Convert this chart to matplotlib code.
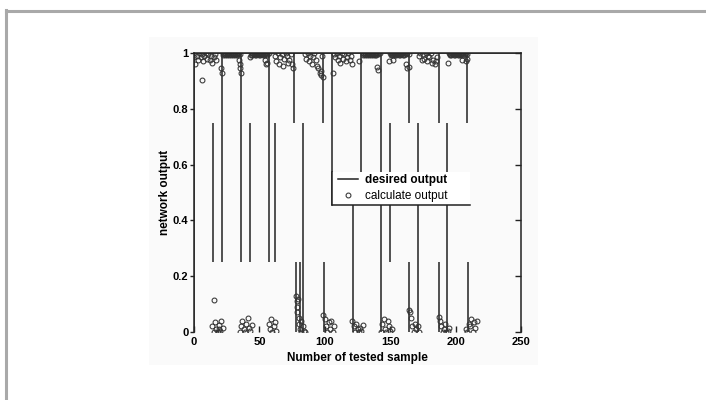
import matplotlib
matplotlib.use("Agg")
import matplotlib.pyplot as plt
import matplotlib.lines as mlines
from matplotlib.patches import Rectangle

plt.rcParams['font.family'] = ['Liberation Sans', 'DejaVu Sans']

# ---------------- data ----------------
# desired output: flat line at 1 plus the vertical transition strokes
desired_x = [0, 250]
desired_y = [1, 1]
seg_x      = [0, 14.2, 21.5, 36, 43, 57.5, 62.3, 76.8, 77.7, 80.8, 83.5, 98.7, 99.1,
              105.8, 121.4, 128, 142.8, 149.8, 164.4, 164.6, 171, 187, 187.5, 193.5,
              208.8, 209.8]
seg_top    = [1, 0.75, 1, 1, 0.75, 1, 0.75, 1, 0.25, 0.25, 0.75, 1, 0.25,
              1, 0.5, 1, 1, 0.75, 1, 0.25, 0.75, 1, 0.25, 0.75,
              1, 0.25]
seg_bottom = [0, 0.25, 0.25, 0.25, 0.25, 0.25, 0.25, 0.75, 0, 0, 0, 0.75, 0,
              0.455, 0, 0.5, 0, 0.25, 0.75, 0, 0, 0.75, 0, 0,
              0.75, 0]

# calculated output (network), near 1
top_x = [0, 1, 2, 3, 4, 5, 6, 7, 8, 9, 10, 11, 12, 13, 14, 15, 16, 17, 6,
         22, 23, 24, 25, 26, 27, 28, 29, 30, 31, 32, 33, 34, 35, 21, 21.5, 34.5, 35.5, 35, 36,
         43, 44, 45, 46, 47, 48, 49, 50, 51, 52, 53, 54, 55, 56, 57, 54, 56, 55,
         62, 63, 64, 65, 66, 67, 68, 69, 70, 71, 72, 73, 74, 75, 76,
         85, 86, 87, 88, 89, 90, 91, 92, 93, 94, 95, 96, 97, 98, 97, 98.5,
         107, 108, 109, 110, 111, 112, 113, 114, 115, 116, 117, 118, 119, 120, 121, 106,
         129, 130, 131, 132, 133, 134, 135, 136, 137, 138, 139, 140, 141, 142, 126, 140, 141,
         150, 151, 152, 153, 154, 155, 156, 157, 158, 159, 160, 161, 162, 163, 164, 149, 152, 162, 164, 163,
         172, 173, 174, 175, 176, 177, 178, 179, 180, 181, 182, 183, 184, 185, 186,
         195, 196, 197, 198, 199, 200, 201, 202, 203, 204, 205, 206, 207, 208, 209, 194, 205, 208, 209]
top_y = [0.985, 0.96, 0.99, 0.975, 1.0, 0.985, 0.995, 0.97, 0.99, 1.0, 0.98, 0.995, 0.975, 0.99, 0.965, 0.985, 0.995, 0.975, 0.905,
         1.0, 0.998, 1.0, 0.997, 1.0, 0.999, 1.0, 0.998, 1.0, 1.0, 0.997, 1.0, 0.999, 0.996, 0.945, 0.93, 0.975, 0.96, 0.945, 0.93,
         0.985, 1.0, 0.998, 1.0, 0.999, 1.0, 0.997, 1.0, 1.0, 0.998, 1.0, 0.999, 1.0, 0.997, 1.0, 0.975, 0.965, 0.96,
         0.99, 0.97, 1.0, 0.96, 0.985, 0.995, 0.955, 0.98, 1.0, 0.99, 0.965, 0.975, 0.995, 0.96, 0.945,
         0.995, 0.98, 1.0, 0.97, 0.99, 0.96, 0.985, 1.0, 0.975, 0.955, 0.945, 0.93, 0.92, 0.99, 0.935, 0.915,
         0.995, 0.985, 1.0, 0.975, 0.99, 0.965, 1.0, 0.98, 0.995, 0.97, 0.985, 1.0, 0.975, 0.99, 0.96, 0.93,
         1.0, 0.998, 1.0, 0.999, 1.0, 0.997, 1.0, 1.0, 0.998, 1.0, 0.999, 1.0, 0.997, 1.0, 0.97, 0.95, 0.94,
         1.0, 0.998, 1.0, 0.999, 1.0, 0.997, 1.0, 1.0, 0.998, 1.0, 0.999, 1.0, 0.997, 1.0, 0.998, 0.97, 0.975, 0.96, 0.95, 0.945,
         0.99, 1.0, 0.975, 0.995, 0.98, 1.0, 0.97, 0.99, 0.985, 1.0, 0.965, 0.975, 0.96, 0.97, 0.985,
         1.0, 0.998, 1.0, 0.999, 1.0, 0.997, 1.0, 1.0, 0.998, 1.0, 0.999, 1.0, 0.997, 1.0, 0.998, 0.965, 0.975, 0.97, 0.98]

# dense runs of outputs sitting right on 1 (the dark bars along the top)
bar_x = [22.5, 23.5, 24.5, 25.5, 26.5, 27.5, 28.5, 29.5, 30.5, 31.5, 32.5, 33.5,
         43.5, 44.5, 45.5, 46.5, 47.5, 48.5, 49.5, 50.5, 51.5, 52.5, 53.5, 54.5, 55.5,
         129.5, 130.5, 131.5, 132.5, 133.5, 134.5, 135.5, 136.5, 137.5, 138.5, 139.5,
         150.5, 151.5, 152.5, 153.5, 154.5, 155.5, 156.5, 157.5, 158.5, 159.5, 160.5,
         195.5, 196.5, 197.5, 198.5, 199.5, 200.5, 201.5, 202.5, 203.5, 204.5, 205.5]
bar_y = [0.994, 0.993, 0.995, 0.994, 0.993, 0.995, 0.994, 0.993, 0.995, 0.994, 0.993, 0.995,
         0.994, 0.993, 0.995, 0.994, 0.993, 0.995, 0.994, 0.993, 0.995, 0.994, 0.993, 0.995, 0.994,
         0.994, 0.993, 0.995, 0.994, 0.993, 0.995, 0.994, 0.993, 0.995, 0.994, 0.993,
         0.994, 0.993, 0.995, 0.994, 0.993, 0.995, 0.994, 0.993, 0.995, 0.994, 0.993,
         0.994, 0.993, 0.995, 0.994, 0.993, 0.995, 0.994, 0.993, 0.995, 0.994, 0.993]

# calculated output, near 0
low_x = [15,
         14, 15, 16, 17, 18, 19, 20, 21, 22, 18, 19,
         35, 36, 37, 38, 39, 40, 41, 42, 43, 44,
         57, 58, 59, 60, 61, 62, 63,
         78, 78.5, 79, 79, 80, 80.5, 81, 82, 83, 84, 85, 82, 79.5,
         99, 100, 101, 102, 103, 104, 105, 106, 107,
         121, 122, 123, 124, 125, 126, 127, 128, 129,
         143, 144, 145, 146, 147, 148, 149, 150, 151,
         164, 165, 166, 167, 168, 169, 170, 171, 172,
         187, 188, 189, 190, 191, 192, 193, 194, 195,
         208, 209, 210, 211, 212, 213, 214, 215, 216]
low_y = [0.115,
         0.02, 0.0, 0.035, 0.01, 0.0, 0.025, 0.005, 0.04, 0.015, 0.0, 0.01,
         0.0, 0.02, 0.04, 0.01, 0.0, 0.03, 0.05, 0.015, 0.005, 0.025,
         0.03, 0.01, 0.045, 0.0, 0.02, 0.035, 0.005,
         0.13, 0.11, 0.09, 0.07, 0.05, 0.03, 0.01, 0.0, 0.02, 0.005, 0.0, 0.04, 0.12,
         0.06, 0.045, 0.02, 0.0, 0.035, 0.01, 0.04, 0.0, 0.02,
         0.04, 0.02, 0.0, 0.03, 0.01, 0.0, 0.015, 0.005, 0.025,
         0.0, 0.03, 0.045, 0.01, 0.0, 0.04, 0.02, 0.005, 0.01,
         0.08, 0.07, 0.05, 0.02, 0.0, 0.03, 0.01, 0.02, 0.0,
         0.055, 0.04, 0.02, 0.0, 0.01, 0.03, 0.0, 0.005, 0.015,
         0.01, 0.0, 0.03, 0.02, 0.045, 0.0, 0.035, 0.015, 0.04]

x_ticks = [0, 50, 100, 150, 200, 250]
y_ticks = [0, 0.2, 0.4, 0.6, 0.8, 1]
y_tick_labels = ['0', '0.2', '0.4', '0.6', '0.8', '1']

# ---------------- figure ----------------
W, H = 706, 400
fig = plt.figure(figsize=(W / 100, H / 100), dpi=100)
fig.patch.set_facecolor('white')

# faint background of the embedded chart image
fig.add_artist(Rectangle((149 / W, (H - 365) / H), (538 - 149) / W, (365 - 37) / H,
                         transform=fig.transFigure, facecolor='#fafafa',
                         edgecolor='none', zorder=0))

# outer gray frame (top and left)
fig.add_artist(mlines.Line2D([6 / W, 6 / W], [0, 1 - 10 / H], color='#a9a9a9', lw=2.2))
fig.add_artist(mlines.Line2D([6 / W, 1], [1 - 11 / H, 1 - 11 / H], color='#a9a9a9', lw=2.2))

ax = fig.add_axes([194 / W, (H - 332) / H, 327 / W, 279 / H])
ax.set_facecolor('none')
ax.set_zorder(2)
ax.set_xlim(0, 250)
ax.set_ylim(0, 1)

lc = '#222222'
line_d, = ax.plot(desired_x, desired_y, color=lc, lw=1.1, zorder=2)
ax.vlines(seg_x, seg_bottom, seg_top, color=lc, lw=1.1, zorder=2)

mk = dict(linestyle='none', marker='o', markersize=3.5, markerfacecolor='none',
          markeredgecolor='#333333', markeredgewidth=0.75, zorder=2.5)
pts, = ax.plot(top_x, top_y, **mk)
ax.plot(bar_x, bar_y, **mk)
ax.plot(low_x, low_y, **mk)

for s in ['left', 'right', 'top']:
    ax.spines[s].set_color(lc)
    ax.spines[s].set_linewidth(1.1)
ax.spines['bottom'].set_visible(False)

ax.set_xticks(x_ticks)
ax.set_yticks(y_ticks)
ax.set_yticklabels(y_tick_labels)
ax.tick_params(axis='x', direction='in', length=4, width=1, color=lc, pad=3.5,
               labelsize=8)
ax.tick_params(axis='y', direction='in', length=4, width=1, color=lc, pad=4,
               right=True, labelsize=8)
for lab in ax.get_xticklabels() + ax.get_yticklabels():
    lab.set_fontweight('bold')
for t in ax.yaxis.get_major_ticks():
    t.tick1line.set_marker(mlines.TICKLEFT)
    t.tick1line.set_markersize(3)

ax.set_xlabel('Number of tested sample', fontsize=8.5, fontweight='bold', labelpad=4)
ax.set_ylabel('network output', fontsize=8.5, fontweight='bold', labelpad=1)

# legend box: white area with only left and bottom border visible
lx0, lx1, ly0, ly1 = 0.421, 0.844, 0.455, 0.575
ax.add_patch(Rectangle((lx0, ly0), lx1 - lx0, ly1 - ly0, transform=ax.transAxes,
                       facecolor='white', edgecolor='none', zorder=3))
ax.plot([lx0, lx1], [ly0, ly0], transform=ax.transAxes, color=lc, lw=1.1, zorder=4,
        clip_on=False)
ax.plot([lx0, lx0], [ly0, ly1], transform=ax.transAxes, color=lc, lw=1.1, zorder=4,
        clip_on=False)
leg = ax.legend([line_d, pts], ['desired output', 'calculate output'],
                loc='center left', bbox_to_anchor=(0.44, 0.516), frameon=False,
                fontsize=8.5, handlelength=1.7, handletextpad=0.6, labelspacing=0.3,
                borderpad=0, borderaxespad=0)
leg.set_zorder(5)
leg.get_texts()[0].set_fontweight('bold')

fig.savefig('out.png', dpi=100, facecolor='white')
